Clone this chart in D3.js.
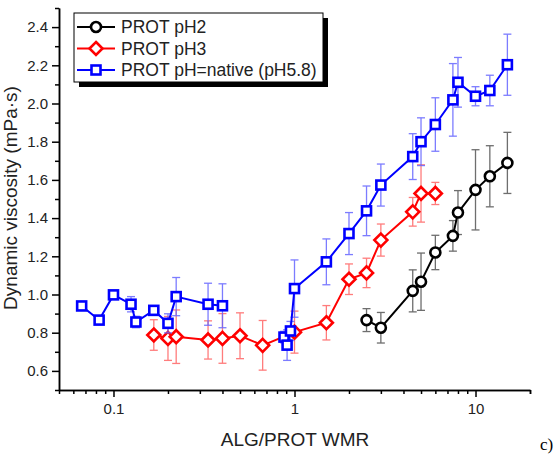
<!DOCTYPE html>
<html>
<head>
<meta charset="utf-8">
<script src="https://cdn.jsdelivr.net/npm/d3@7"></script>
<style>
  body { margin: 0; background: #fff; }
  svg { display: block; font-family: "Liberation Sans", Arial, sans-serif; }
</style>
</head>
<body>
<div id="chart"></div>
<script>
// Data
const xPH2 = [2.5, 3, 4.5, 5, 6, 7.5, 8, 10, 12, 15];
const yPH2 = [0.866, 0.826, 1.019, 1.067, 1.220, 1.307, 1.429, 1.548, 1.619, 1.689];
const ePH2 = [0.06, 0.08, 0.11, 0.15, 0.09, 0.08, 0.115, 0.21, 0.16, 0.16];

const xPH3 = [0.167, 0.2, 0.222, 0.333, 0.4, 0.5, 0.667, 1, 1.5, 2, 2.5, 3, 4.5, 5, 6];
const yPH3 = [0.788, 0.770, 0.779, 0.762, 0.770, 0.784, 0.734, 0.803, 0.852, 1.080, 1.113, 1.285, 1.433, 1.529, 1.529];
const ePH3 = [0.08, 0.115, 0.14, 0.10, 0.13, 0.12, 0.13, 0.11, 0.09, 0.08, 0.077, 0.084, 0.075, 0.15, 0.058];

// native pH series is drawn as two line segments (no line between 0.4 and 0.875)
const xNatLow = [0.0667, 0.0833, 0.1, 0.125, 0.133, 0.167, 0.2, 0.222, 0.333, 0.4];
const yNatLow = [0.940, 0.866, 0.998, 0.949, 0.856, 0.917, 0.849, 0.989, 0.949, 0.941];
const eNatLow = [0.02, 0.02, 0.02, 0.04, 0.03, 0.02, 0.05, 0.10, 0.11, 0.115];

const xNatHigh = [0.875, 0.91, 0.95, 1, 1.5, 2, 2.5, 3, 4.5, 5, 6, 7.5, 8, 10, 12, 15];
const yNatHigh = [0.777, 0.735, 0.809, 1.031, 1.171, 1.319, 1.438, 1.573, 1.722, 1.800, 1.890, 2.019, 2.111, 2.038, 2.068, 2.203];
const eNatHigh = [0.03, 0.08, 0.05, 0.15, 0.12, 0.11, 0.13, 0.11, 0.12, 0.125, 0.14, 0.19, 0.13, 0.05, 0.08, 0.16];

const xMajor = [0.1, 1, 10];
const yMajor = [0.6, 0.8, 1.0, 1.2, 1.4, 1.6, 1.8, 2.0, 2.2, 2.4];
const legendLabels = ['PROT pH2', 'PROT pH3', 'PROT pH=native (pH5.8)'];

const zip = (xs, ys, es) => xs.map((x, i) => ({ x, y: ys[i], e: es[i] }));

const series = [
  { name: legendLabels[0], color: '#000000', err: '#555555', shape: 'circle',
    segments: [zip(xPH2, yPH2, ePH2)] },
  { name: legendLabels[1], color: '#ff0000', err: '#ff6666', shape: 'diamond',
    segments: [zip(xPH3, yPH3, ePH3)] },
  { name: legendLabels[2], color: '#0000ff', err: '#6666ff', shape: 'square',
    segments: [zip(xNatLow, yNatLow, eNatLow), zip(xNatHigh, yNatHigh, eNatHigh)] }
];

const W = 555, H = 454;
const svg = d3.select('#chart').append('svg')
  .attr('width', W)
  .attr('height', H);

const x = d3.scaleLog().domain([0.05, 20]).range([59, 530]);
const y = d3.scaleLinear().domain([0.5, 2.5]).range([390, 8]);

// minor ticks
const xMinor = [];
[0.01, 0.1, 1, 10].forEach(dec => {
  for (let k = 2; k <= 9; k++) {
    const v = dec * k;
    if (v >= 0.05 && v <= 20) xMinor.push(v);
  }
});
xMinor.push(20);
const yMinor = d3.range(5, 26, 2).map(v => v / 10);

// axes
const xAxisMinor = svg.append('g')
  .attr('transform', 'translate(0,390)')
  .call(d3.axisBottom(x).tickValues(xMinor).tickSize(4).tickSizeOuter(0).tickFormat(''));
const xAxis = svg.append('g')
  .attr('transform', 'translate(0,390)')
  .call(d3.axisBottom(x).tickValues(xMajor).tickSize(7).tickSizeOuter(0)
    .tickFormat(d3.format('~g')).tickPadding(6));

const yAxisMinor = svg.append('g')
  .attr('transform', 'translate(59,0)')
  .call(d3.axisLeft(y).tickValues(yMinor).tickSize(4).tickSizeOuter(0).tickFormat(''));
const yAxis = svg.append('g')
  .attr('transform', 'translate(59,0)')
  .call(d3.axisLeft(y).tickValues(yMajor).tickSize(7).tickSizeOuter(0)
    .tickFormat(d3.format('.1f')).tickPadding(4));

[xAxisMinor, xAxis, yAxisMinor, yAxis].forEach(g => {
  g.selectAll('path, line').attr('stroke', '#000').attr('stroke-width', 1.5);
  g.selectAll('text').attr('fill', '#222').attr('font-size', '15px')
    .attr('font-family', '"Liberation Sans", Arial, sans-serif');
});

// axis titles
svg.append('text')
  .attr('x', 295)
  .attr('y', 446)
  .attr('text-anchor', 'middle')
  .attr('font-size', '19px')
  .attr('fill', '#222')
  .text('ALG/PROT WMR');

svg.append('text')
  .attr('transform', 'rotate(-90)')
  .attr('x', -198)
  .attr('y', 17)
  .attr('text-anchor', 'middle')
  .attr('font-size', '19px')
  .attr('fill', '#222')
  .text('Dynamic viscosity (mPa·s)');

svg.append('text')
  .attr('x', 540)
  .attr('y', 450)
  .attr('font-family', '"Liberation Serif", "Times New Roman", serif')
  .attr('font-size', '17px')
  .attr('fill', '#000')
  .text('c)');

// marker drawing
function drawMarker(sel, shape, color) {
  if (shape === 'circle') {
    sel.append('circle').attr('r', 5);
  } else if (shape === 'square') {
    sel.append('rect').attr('x', -4.5).attr('y', -4.5).attr('width', 9).attr('height', 9);
  } else {
    sel.append('path').attr('d', 'M0,-6.5L6.5,0L0,6.5L-6.5,0Z');
  }
  sel.selectAll('circle, rect, path')
    .attr('fill', '#fff')
    .attr('stroke', color)
    .attr('stroke-width', 2.6);
}

const line = d3.line().x(d => x(d.x)).y(d => y(d.y));

series.forEach(s => {
  const g = svg.append('g');
  const all = s.segments.flat();

  // error bars
  const eb = g.append('g')
    .attr('stroke', s.err)
    .attr('stroke-width', 1.3)
    .attr('opacity', 0.85);
  all.forEach(d => {
    const cx = x(d.x), y1 = y(d.y - d.e), y2 = y(d.y + d.e);
    eb.append('line').attr('x1', cx).attr('x2', cx).attr('y1', y1).attr('y2', y2);
    eb.append('line').attr('x1', cx - 4).attr('x2', cx + 4).attr('y1', y1).attr('y2', y1);
    eb.append('line').attr('x1', cx - 4).attr('x2', cx + 4).attr('y1', y2).attr('y2', y2);
  });

  // connecting lines
  s.segments.forEach(seg => {
    g.append('path')
      .datum(seg)
      .attr('d', line)
      .attr('fill', 'none')
      .attr('stroke', s.color)
      .attr('stroke-width', 2);
  });

  // markers
  g.selectAll('g.pt')
    .data(all)
    .join('g')
    .attr('class', 'pt')
    .attr('transform', d => `translate(${x(d.x)},${y(d.y)})`)
    .each(function() { drawMarker(d3.select(this), s.shape, s.color); });
});

// legend
const legend = svg.append('g');
legend.append('rect')
  .attr('x', 79).attr('y', 18).attr('width', 249).attr('height', 69)
  .attr('fill', '#000');
legend.append('rect')
  .attr('x', 74).attr('y', 13).attr('width', 249).attr('height', 69)
  .attr('fill', '#fff').attr('stroke', '#000').attr('stroke-width', 1);

series.forEach((s, i) => {
  const ly = 27 + i * 21.5;
  legend.append('line')
    .attr('x1', 77).attr('x2', 115).attr('y1', ly).attr('y2', ly)
    .attr('stroke', s.color).attr('stroke-width', 2);
  const m = legend.append('g').attr('transform', `translate(96,${ly})`);
  drawMarker(m, s.shape, s.color);
  legend.append('text')
    .attr('x', 121)
    .attr('y', ly + 6)
    .attr('font-size', '17.5px')
    .attr('fill', '#222')
    .text(s.name);
});
</script>
</body>
</html>
